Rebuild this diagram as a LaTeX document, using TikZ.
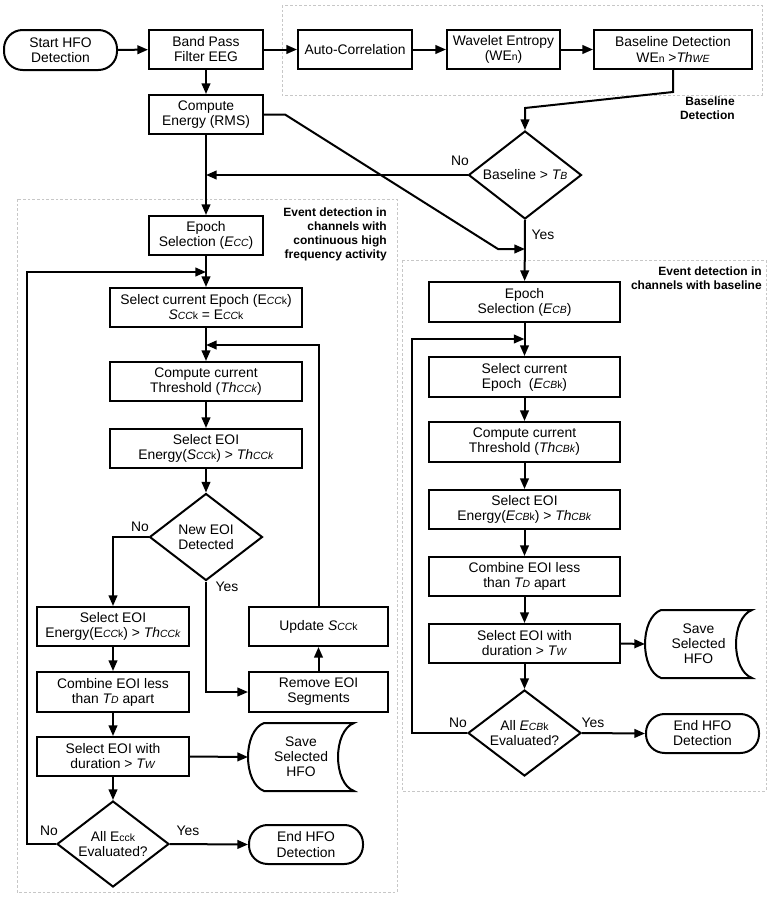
\documentclass[tikz,border=0pt]{standalone}
\usepackage{fontspec}
\setmainfont{Liberation Sans}
\usetikzlibrary{shapes.geometric,arrows.meta,calc}
\newcommand{\sbx}[1]{{\fontsize{7.8}{8}\selectfont #1}}
\begin{document}
\begin{tikzpicture}[x=0.75pt,y=-0.75pt,
  sz/.style 2 args={minimum width=#1*0.75pt,minimum height=#2*0.75pt},
  base/.style={line width=1.5pt, inner sep=0pt, align=center, font=\fontsize{10.4}{11.3}\selectfont},
  procbox/.style={base,draw,rectangle},
  termbox/.style={base,draw,rectangle,rounded corners=14pt},
  decbox/.style={base,draw,diamond,aspect=1.3},
  plainbox/.style={base},
  lbl/.style={font=\fontsize{10.4}{11.3}\selectfont,inner sep=0pt},
  grplbl/.style={font=\bfseries\fontsize{9}{10.5}\selectfont,align=right,inner sep=0pt,anchor=north east},
  grp/.style={draw=black!22,line width=0.5pt,dash pattern=on 2pt off 1.5pt},
  conn/.style={line width=1.5pt},
  arr/.style={conn,-{Triangle[length=8pt,width=6.5pt]}},
]
\useasboundingbox (0,0) rectangle (768,897);
% groups
\draw[grp] (282,5) rectangle (762,95);
\draw[grp] (17,199) rectangle (397,892);
\draw[grp] (402,260) rectangle (766,791);
\node[grplbl] (g1l) at (735,97) {Baseline\\Detection};
\node[grplbl] (g2l) at (387,208) {Event detection in\\channels with\\continuous high\\frequency activity};
\node[grplbl] (g3l) at (762,267) {Event detection in\\channels with baseline};

% top row
\node[termbox,sz={113}{40}] (start) at (60.5,50) {Start HFO\\Detection};
\node[procbox,sz={114}{39}] (bpf) at (206,49.5) {Band Pass\\Filter EEG};
\node[procbox,sz={114}{39}] (auto) at (355,49.5) {Auto-Correlation};
\node[procbox,sz={113}{39}] (wen) at (503.5,49.5) {Wavelet Entropy\\(WE\sbx{n})};
\node[procbox,sz={158}{39}] (bld) at (673,49.5) {Baseline Detection\\WE\sbx{n} >\textit{Th\sbx{WE}}};
\node[procbox,sz={114}{39}] (rms) at (206,114.5) {Compute\\Energy (RMS)};
\node[decbox,sz={113}{88}] (bdiam) at (525,175) {Baseline > \textit{T\sbx{B}}};

% left column
\node[procbox,sz={114}{39}] (ecc) at (206,235.5) {Epoch\\Selection (\textit{E\sbx{CC}})};
\node[procbox,sz={192}{39}] (selcc) at (206,307.5) {Select current Epoch (E\textit{\sbx{CC}}\sbx{k})\\\textit{S\sbx{CC}}\sbx{k} = E\textit{\sbx{CC}}\sbx{k}};
\node[procbox,sz={192}{39}] (thcc) at (206,381.5) {Compute current\\Threshold (\textit{Th\sbx{CCk}})};
\node[procbox,sz={192}{39}] (eoicc) at (206,448.5) {Select EOI\\Energy(\textit{S\sbx{CC}}\sbx{k}) > \textit{Th\sbx{CCk}}};
\node[decbox,sz={113}{87}] (ndiam) at (206,537) {New EOI\\Detected};
\node[procbox,sz={152}{39}] (eoi2) at (113,626.5) {Select EOI\\Energy(E\textit{\sbx{CC}}\sbx{k}) > \textit{Th\sbx{CCk}}};
\node[procbox,sz={152}{40}] (comb1) at (113,692) {Combine EOI less\\than \textit{T\sbx{D}} apart};
\node[procbox,sz={152}{39}] (dur1) at (113,756.5) {Select EOI with\\duration > \textit{T\sbx{W}}};
\node[plainbox,sz={104}{66}] (save1) at (301,757) {Save\\Selected\\HFO};
\node[decbox,sz={112}{86}] (adiam1) at (113,844) {All E\sbx{cck}\\Evaluated?};
\node[termbox,sz={114}{39}] (end1) at (306,844.5) {End HFO\\Detection};
\node[procbox,sz={139}{39}] (upd) at (318.5,626.5) {Update \textit{S\sbx{CC}}\sbx{k}};
\node[procbox,sz={139}{40}] (rem) at (318.5,692) {Remove EOI\\Segments};

% right column
\node[procbox,sz={191}{40}] (ecb) at (524.5,302) {Epoch\\Selection (\textit{E\sbx{CB}})};
\node[procbox,sz={191}{40}] (selcb) at (524.5,377) {Select current\\Epoch~ (\textit{E\sbx{CB}}\sbx{k})};
\node[procbox,sz={191}{40}] (thcb) at (524.5,442) {Compute current\\Threshold (\textit{Th\sbx{CBk}})};
\node[procbox,sz={191}{39}] (eoicb) at (524.5,509.5) {Select EOI\\Energy(\textit{E\sbx{CB}}\sbx{k}) > \textit{Th\sbx{CBk}}};
\node[procbox,sz={191}{39}] (comb2) at (524.5,576.5) {Combine EOI less\\than \textit{T\sbx{D}} apart};
\node[procbox,sz={191}{39}] (dur2) at (524.5,643.5) {Select EOI with\\duration > \textit{T\sbx{W}}};
\node[plainbox,sz={105}{66}] (save2) at (698.5,644) {Save\\Selected\\HFO};
\node[decbox,sz={113}{86}] (adiam2) at (524.5,733) {All \textit{E\sbx{CB}}\sbx{k}\\Evaluated?};
\node[termbox,sz={113}{39}] (end2) at (702.5,733.5) {End HFO\\Detection};

% save shapes
\foreach \s in {save1,save2}{
\draw[conn] ($(\s.north west)+(16,0)$) -- (\s.north east)
  .. controls ($(\s.north east)+(-21.3,8)$) and ($(\s.south east)+(-21.3,-8)$) .. (\s.south east)
  -- ($(\s.south west)+(16,0)$)
  .. controls ($(\s.south west)+(-5.3,-8)$) and ($(\s.north west)+(-5.3,8)$) .. cycle;
}

% labels
\node[lbl] (no1) at (460,161) {No};
\node[lbl] (yes1) at (543,235) {Yes};
\node[lbl] (no2) at (140,527) {No};
\node[lbl] (yes2) at (227,587) {Yes};
\node[lbl] (no3) at (49,831) {No};
\node[lbl] (yes3) at (188,831) {Yes};
\node[lbl] (no4) at (458,723) {No};
\node[lbl] (yes4) at (593,723) {Yes};

% coordinates
\coordinate (k1) at (673,92);
\coordinate (k2) at (525,108);
\coordinate (k3) at (285,114.5);
\coordinate (k4) at (498,249);
\coordinate (k5) at (318.5,345);
\coordinate (lp1) at (27,272);
\coordinate (lp2) at (412,339);

% connectors
\draw[arr] (start) -- (bpf);
\draw[arr] (bpf) -- (auto);
\draw[arr] (auto) -- (wen);
\draw[arr] (wen) -- (bld);
\draw[arr] (bpf) -- (rms);
\draw[arr] (bld.south) -- (k1) -- (k2) -- (bdiam.north);
\draw[arr] (rms) -- (ecc);
\draw[arr] (bdiam.west) -- (bdiam.west -| rms.south);
\draw[arr] (rms.east) -- (k3) -- (k4) -- (k4 -| bdiam.south);
\draw[arr] (bdiam.south) -- (ecb);

\draw[arr] (ecc) -- (selcc);
\draw[arr] (selcc) -- (thcc);
\draw[arr] (thcc) -- (eoicc);
\draw[arr] (eoicc) -- (ndiam);
\draw[arr] (ndiam.west) -| (eoi2.north);
\draw[arr] (ndiam.south) |- (rem.west);
\draw[arr] (rem) -- (upd);
\draw[arr] (upd.north) -- (k5) -- (k5 -| thcc.north);
\draw[arr] (eoi2) -- (comb1);
\draw[arr] (comb1) -- (dur1);
\draw[arr] (dur1) -- (adiam1);
\draw[arr] (dur1.east) -- (save1.west);
\draw[arr] (adiam1.east) -- (end1.west);
\draw[arr] (adiam1.west) -| (lp1) -- (lp1 -| selcc.north);

\draw[arr] (ecb) -- (selcb);
\draw[arr] (selcb) -- (thcb);
\draw[arr] (thcb) -- (eoicb);
\draw[arr] (eoicb) -- (comb2);
\draw[arr] (comb2) -- (dur2);
\draw[arr] (dur2) -- (adiam2);
\draw[arr] (dur2.east) -- (save2.west);
\draw[arr] (adiam2.east) -- (end2.west);
\draw[arr] (adiam2.west) -| (lp2) -- (lp2 -| selcb.north);
\end{tikzpicture}
\end{document}
